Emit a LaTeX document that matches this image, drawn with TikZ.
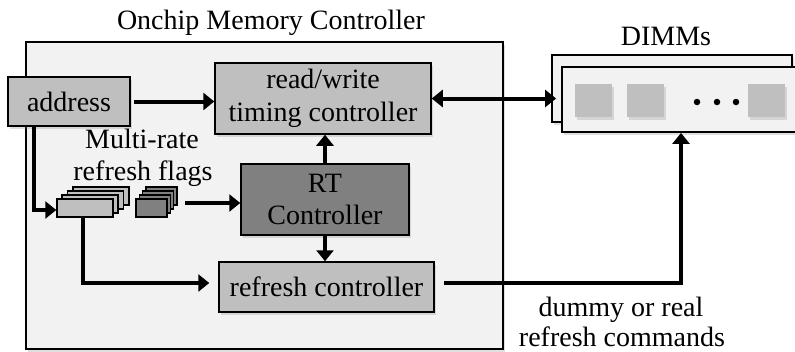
\documentclass[tikz,border=0pt]{standalone}
\usepackage{fontspec}
\setmainfont{Liberation Serif}
\usetikzlibrary{arrows.meta,shadows}

\definecolor{boxgray}{HTML}{BFBFBF}
\definecolor{rtgray}{HTML}{808080}
\definecolor{panel}{HTML}{F2F2F2}

\begin{document}
\begin{tikzpicture}[x=1pt,y=-1pt,
  every node/.style={font=\fontsize{28}{32.5}\selectfont},
  softshadow/.style={drop shadow={shadow xshift=2pt,shadow yshift=-2.5pt,opacity=0.25}},
  box/.style={draw=black,line width=1.5pt,fill=boxgray,inner sep=0pt,align=center,softshadow},
  darkbox/.style={box,fill=rtgray},
  panelbox/.style={draw=black,line width=2pt,fill=panel,inner sep=0pt,softshadow},
  flag/.style={draw=black,line width=1.5pt,fill=boxgray,inner sep=0pt,minimum width=56pt,minimum height=18pt},
  darkflag/.style={flag,fill=rtgray,minimum width=31pt},
  chip/.style={fill=boxgray,inner sep=0pt,minimum width=37pt,minimum height=33pt,softshadow},
  dimmdot/.style={circle,fill=black,inner sep=0pt,minimum size=6.5pt},
  label/.style={inner sep=0pt,anchor=base},
  arrow/.style={line width=4pt,-{Triangle[length=11pt,width=17pt]}},
  biarrow/.style={line width=4pt,{Triangle[length=11pt,width=17pt]}-{Triangle[length=11pt,width=17pt]}}
]
\useasboundingbox (0,0) rectangle (795,351);
\clip (0,0) rectangle (795,351);

% memory controller panel and its title
\node[panelbox,minimum width=477pt,minimum height=307pt] (mc) at (264.5,195.5) {};
\node[label] (mctitle) at (271,29) {Onchip Memory Controller};

% DIMM modules
\node[label] (dimmtitle) at (666,45) {DIMMs};
\node[panelbox,line width=1.8pt,minimum width=240pt,minimum height=67pt] (dimmback) at (672,88.5) {};
\node[panelbox,line width=1.8pt,minimum width=238pt,minimum height=65pt] (dimmfront) at (681,99.5) {};
\node[chip] (chip1) at (593.5,100.5) {};
\node[chip] (chip2) at (645,100.5) {};
\node[chip] (chip3) at (766.5,100.5) {};
\node[dimmdot] (dot1) at (697,102) {};
\node[dimmdot] (dot2) at (717,102) {};
\node[dimmdot] (dot3) at (736,102) {};

% controller blocks
\node[box,minimum width=122pt,minimum height=49pt] (address) at (69,101.5) {address};
\node[box,minimum width=216pt,minimum height=71pt] (rw) at (323,98.5) {read/write\\timing controller};
\node[darkbox,minimum width=168pt,minimum height=71pt] (rt) at (325,199.5) {RT\\Controller};
\node[box,minimum width=215pt,minimum height=50pt] (refresh) at (326.5,287) {refresh controller};

% stacks of refresh flags
\node[flag] (lf3) at (101,196) {};
\node[flag] (lf2) at (95.5,200) {};
\node[flag] (lf1) at (90,204) {};
\node[flag] (lf0) at (85,208) {};
\node[darkflag] (df3) at (161.5,196) {};
\node[darkflag] (df2) at (158,200) {};
\node[darkflag] (df1) at (155,204) {};
\node[darkflag] (df0) at (151.5,208) {};
\node[label] (flagsa) at (142,148) {Multi-rate};
\node[label] (flagsb) at (143,180) {refresh flags};

% command label
\node[label] (cmda) at (621,316) {dummy or real};
\node[label] (cmdb) at (622,346) {refresh commands};

% connectors
\draw[arrow] ([xshift=3pt]address.east) -- (address.east -| rw.west);
\draw[biarrow] (rw.east) -- ([xshift=5pt]dimmback.west |- rw.east);
\draw[arrow] ([xshift=27pt]address.south west) |- ([yshift=-2pt]lf0.west);
\draw[arrow] ([xshift=17pt,yshift=5pt]df0.east) -- ([yshift=5pt]df0.east -| rt.west);
\draw[arrow] (rt.north) -- (rt.north |- rw.south);
\draw[arrow] (rt.south) -- (rt.south |- refresh.north);
\draw[arrow] ([xshift=-2pt]lf0.south) |- ([xshift=-9pt,yshift=4pt]refresh.west);
\draw[arrow] ([xshift=9pt,yshift=4pt]refresh.east) -| (dimmfront.south);
\end{tikzpicture}
\end{document}
